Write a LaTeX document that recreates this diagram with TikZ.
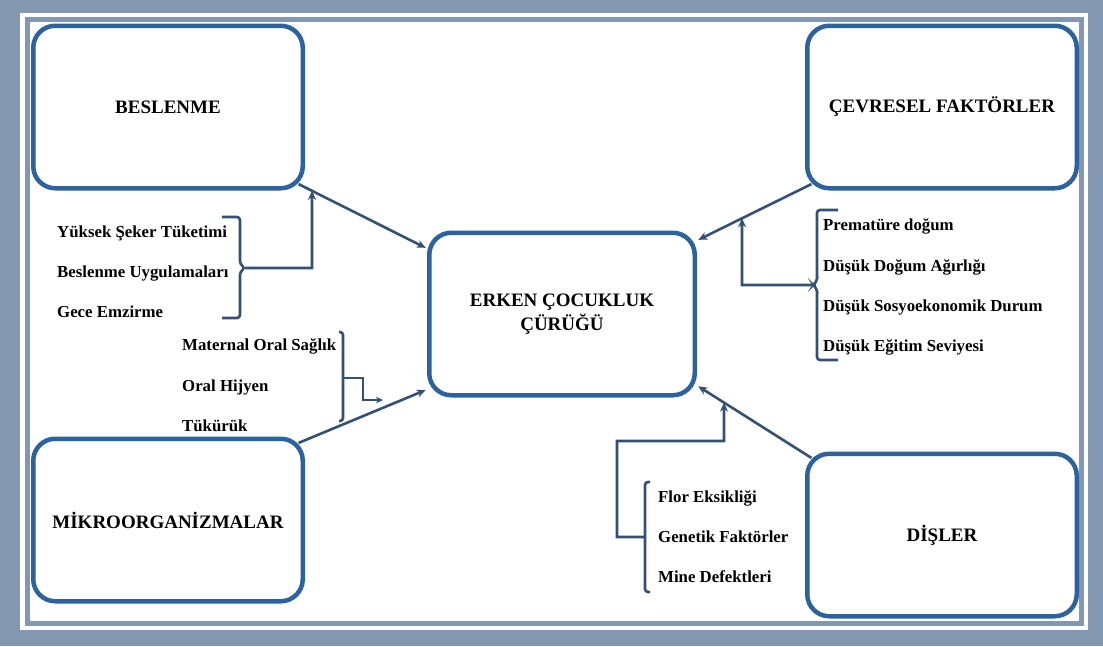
\documentclass[tikz,border=0pt]{standalone}
\usepackage{fontspec}
\setmainfont{Liberation Serif}
\usetikzlibrary{arrows.meta,calc}
\definecolor{frameblue}{RGB}{132,151,176}
\definecolor{boxblue}{RGB}{44,98,158}
\definecolor{arrowblue}{RGB}{52,80,116}
\begin{document}
\begin{tikzpicture}[x=1pt,y=-1pt,
  bigbox/.style={draw=boxblue, line width=4.5pt, rounded corners=22pt, minimum width=269.5pt, minimum height=162.5pt, fill=white, font=\fontsize{19}{24}\selectfont\bfseries, align=center, inner sep=0pt},
  item/.style={anchor=base west, font=\fontsize{16.8}{20}\selectfont\bfseries, inner sep=0pt},
  arr/.style={draw=arrowblue, line width=2.6pt, -{Stealth[length=9pt,width=8pt]}},
  brk/.style={draw=arrowblue, line width=2.6pt, rounded corners=3pt},
  feed/.style={draw=arrowblue, line width=2.6pt}
]
\useasboundingbox (0,0) rectangle (1103,646);
\fill[frameblue] (0,0) rectangle (1103,646);
\fill[white] (20,13) rectangle (1088,630);
\draw[frameblue, line width=4.5pt] (27.5,19.5) rectangle (1081.5,623.5);

% main boxes
\node[bigbox] (besl) at (168,107) {BESLENME};
\node[bigbox] (cevre) at (942,107) {ÇEVRESEL FAKTÖRLER};
\node[bigbox, minimum width=265.5pt] (center) at (562,314) {ERKEN ÇOCUKLUK\\ÇÜRÜĞÜ};
\node[bigbox] (mikro) at (168,520) {MİKROORGANİZMALAR};
\node[bigbox] (disler) at (942,535) {DİŞLER};

% main arrows
\coordinate (a1s) at ($(besl.south east)+(-6.4,-6.4)$);
\coordinate (a1e) at ($(center.north west)+(0,18)$);
\coordinate (a2s) at ($(cevre.south west)+(6.4,-6.4)$);
\coordinate (a2e) at ($(center.north east)+(0,10)$);
\coordinate (a3s) at ($(mikro.north east)+(-6.4,6.4)$);
\coordinate (a3e) at ($(center.south west)+(0,-8)$);
\coordinate (a4s) at ($(disler.north west)+(6.4,6.4)$);
\coordinate (a4e) at ($(center.south east)+(0,-12)$);
\draw[arr, shorten >=1.5pt] (a1s) -- (a1e);
\draw[arr, shorten >=1.5pt] (a2s) -- (a2e);
\draw[arr, shorten >=1.5pt] (a3s) -- (a3e);
\draw[arr, shorten >=1.5pt] (a4s) -- (a4e);

% group 1 (Beslenme)
\node[item] (t11) at (57,237) {Yüksek Şeker Tüketimi};
\node[item] (t12) at (57,277) {Beslenme Uygulamaları};
\node[item] (t13) at (57,317) {Gece Emzirme};
\draw[brk] (222,217) -- (240,217) -- (240,264) -- (245,268) -- (240,272) -- (240,318) -- (222,318);
\coordinate (g1tip) at (245,268);
\coordinate (g1c) at (312,268);
\coordinate (g1up) at (312,100);
\coordinate (g1e) at (intersection of a1s--a1e and g1c--g1up);
\draw[arr] (g1tip) -- (g1c) -- (g1e);

% group 2 (Mikroorganizmalar)
\node[item] (t21) at (182,350) {Maternal Oral Sağlık};
\node[item] (t22) at (182,391) {Oral Hijyen};
\node[item] (t23) at (182,431) {Tükürük};
\draw[brk] (339,332) -- (343,332) -- (343,421) -- (339,421);
\coordinate (g2tip) at (343,378);
\coordinate (g2e) at (383,400);
\draw[arr, -{Stealth[length=7pt,width=6.5pt]}] (g2tip) -- (363,378) -- (363,400) -- (g2e);

% group 3 (Cevresel)
\node[item] (t31) at (823,230) {Prematüre doğum};
\node[item] (t32) at (823,271) {Düşük Doğum Ağırlığı};
\node[item] (t33) at (823,311) {Düşük Sosyoekonomik Durum};
\node[item] (t34) at (823,351) {Düşük Eğitim Seviyesi};
\draw[brk] (838,210) -- (817,210) -- (817,281) -- (813,285) -- (817,289) -- (817,360) -- (838,360);
\coordinate (g3tip) at (813,285);
\coordinate (g3c) at (742,285);
\coordinate (g3up) at (742,100);
\coordinate (g3e) at (intersection of a2s--a2e and g3c--g3up);
\draw[arr] (g3tip) -- (g3c) -- (g3e);

% group 4 (Disler)
\node[item] (t41) at (658,502) {Flor Eksikliği};
\node[item] (t42) at (658,542) {Genetik Faktörler};
\node[item] (t43) at (658,582) {Mine Defektleri};
\draw[brk] (650,482) -- (645,482) -- (645,592) -- (650,592);
\coordinate (g4tip) at (645,537);
\coordinate (g4c) at (724,441);
\coordinate (g4up) at (724,300);
\coordinate (g4e) at (intersection of a4s--a4e and g4c--g4up);
\draw[arr] (g4tip) -- (617,537) -- (617,441) -- (g4c) -- (g4e);
\end{tikzpicture}
\end{document}
